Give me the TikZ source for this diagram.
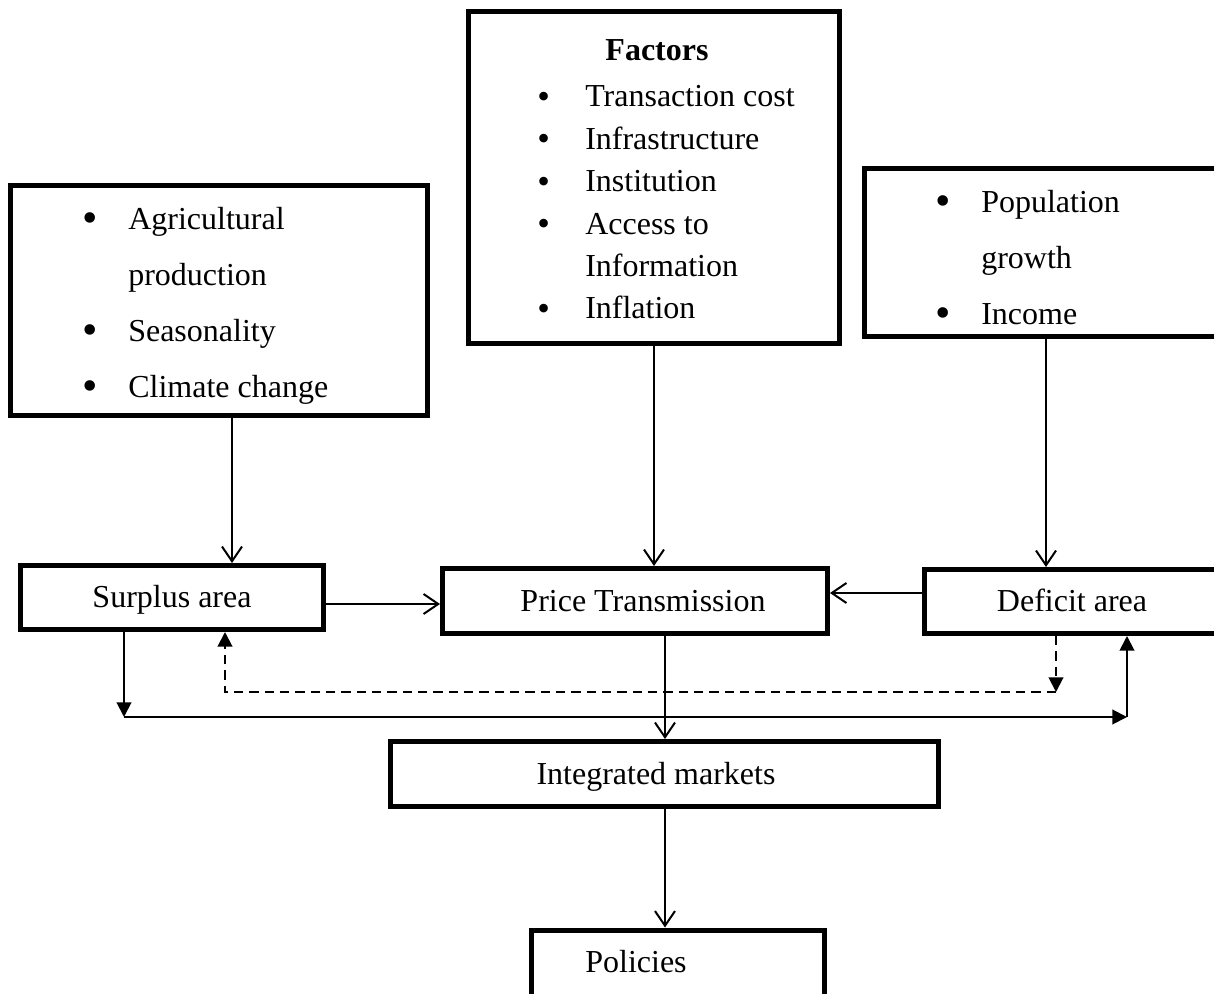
\documentclass[tikz,border=0pt]{standalone}
\usepackage{fontspec}
\setmainfont{Liberation Serif}
\usetikzlibrary{arrows.meta}

\tikzset{
  frame/.style 2 args={draw, line width=3.75pt, inner sep=0pt, minimum width=#1, minimum height=#2},
  txt/.style={inner sep=0pt, font=\fontsize{24}{28}\selectfont},
  barb/.style={line width=1.5pt, -{Straight Barb[length=11pt, width=15pt]}},
  tri/.style={line width=1.5pt, -{Triangle[length=11pt, width=11pt]}},
  dashtri/.style={tri, dash pattern=on 7pt off 4.5pt},
}
\newcommand{\bigdot}{\raisebox{-2pt}{\fontsize{33}{33}\selectfont\textbullet}}
\newcommand{\smalldot}{\raisebox{-1pt}{\fontsize{27}{27}\selectfont\textbullet}}

\begin{document}
\begin{tikzpicture}[x=0.75pt, y=-0.75pt]
    \useasboundingbox (0,0) rectangle (1214,994);

    % Boxes
    \node[frame={312.75pt}{172.5pt}] (agri) at (219,300.5) {};
    \node[frame={278.25pt}{249pt}] (factors) at (654,177.5) {};
    \node[frame={267.75pt}{126pt}] (pop) at (1043,252.5) {};
    \node[frame={227.25pt}{48pt}] (surplus) at (172,597.5) {};
    \node[frame={288.75pt}{48.75pt}] (price) at (635,601) {};
    \node[frame={222.75pt}{48pt}] (deficit) at (1073,601.5) {};
    \node[frame={411pt}{48.75pt}] (integrated) at (664.5,774) {};
    \node[frame={219.75pt}{52.5pt}] (policies) at (678,965) {};

    % Texts of the boxes
    \node[txt, anchor=base west] (agri-txt) at (82,230) {\fontsize{24}{42}\selectfont
        \begin{tabular}[t]{@{}p{34.5pt}@{}l@{}}
            \bigdot & Agricultural\\
                    & production\\
            \bigdot & Seasonality\\
            \bigdot & Climate change
        \end{tabular}};
    \node[txt, anchor=base, font=\fontsize{24}{28}\selectfont\bfseries] (factors-title) at (657,61) {Factors};
    \node[txt, anchor=base west] (factors-txt) at (537,107) {\fontsize{24}{31.8}\selectfont
        \begin{tabular}[t]{@{}p{36pt}@{}l@{}}
            \smalldot & Transaction cost\\
            \smalldot & Infrastructure\\
            \smalldot & Institution\\
            \smalldot & Access to\\
                      & Information\\
            \smalldot & Inflation
        \end{tabular}};
    \node[txt, anchor=base west] (pop-txt) at (935,213) {\fontsize{24}{42}\selectfont
        \begin{tabular}[t]{@{}p{34.5pt}@{}l@{}}
            \bigdot & Population\\
                    & growth\\
            \bigdot & Income
        \end{tabular}};
    \node[txt, anchor=base] (surplus-txt) at (172,608) {Surplus area};
    \node[txt, anchor=base] (price-txt) at (643,611) {Price Transmission};
    \node[txt, anchor=base] (deficit-txt) at (1072,611) {Deficit area};
    \node[txt, anchor=base] (integrated-txt) at (656,784) {Integrated markets};
    \node[txt, anchor=base] (policies-txt) at (636,972) {Policies};

    % Main arrows
    \draw[barb] (232,0 |- agri.south) -- (232,0 |- surplus.north);
    \draw[barb] (factors.south) -- (factors.south |- price.north);
    \draw[barb] (1046,0 |- pop.south) -- (1046,0 |- deficit.north);
    \draw[barb] (surplus.east |- 0,604) -- (price.west |- 0,604);
    \draw[barb] (deficit.west |- 0,593) -- (price.east |- 0,593);
    \draw[barb] (665,0 |- price.south) -- (665,0 |- integrated.north);
    \draw[barb] (665,0 |- integrated.south) -- (665,0 |- policies.north);

    % Loop between surplus and deficit area
    \coordinate (loopL) at (124,717);
    \coordinate (loopR) at (1127,717);
    \coordinate (dashL) at (225,692);
    \coordinate (dashR) at (1056,692);
    \draw[tri] (loopL |- surplus.south) -- (loopL);
    \draw[tri] (loopL) -- (loopR);
    \draw[tri] (loopR) -- (loopR |- deficit.south);
    \draw[dashtri] (dashR |- deficit.south) -- (dashR);
    \draw[dashtri] (dashR) -- (dashL) -- (dashL |- surplus.south);
\end{tikzpicture}
\end{document}
